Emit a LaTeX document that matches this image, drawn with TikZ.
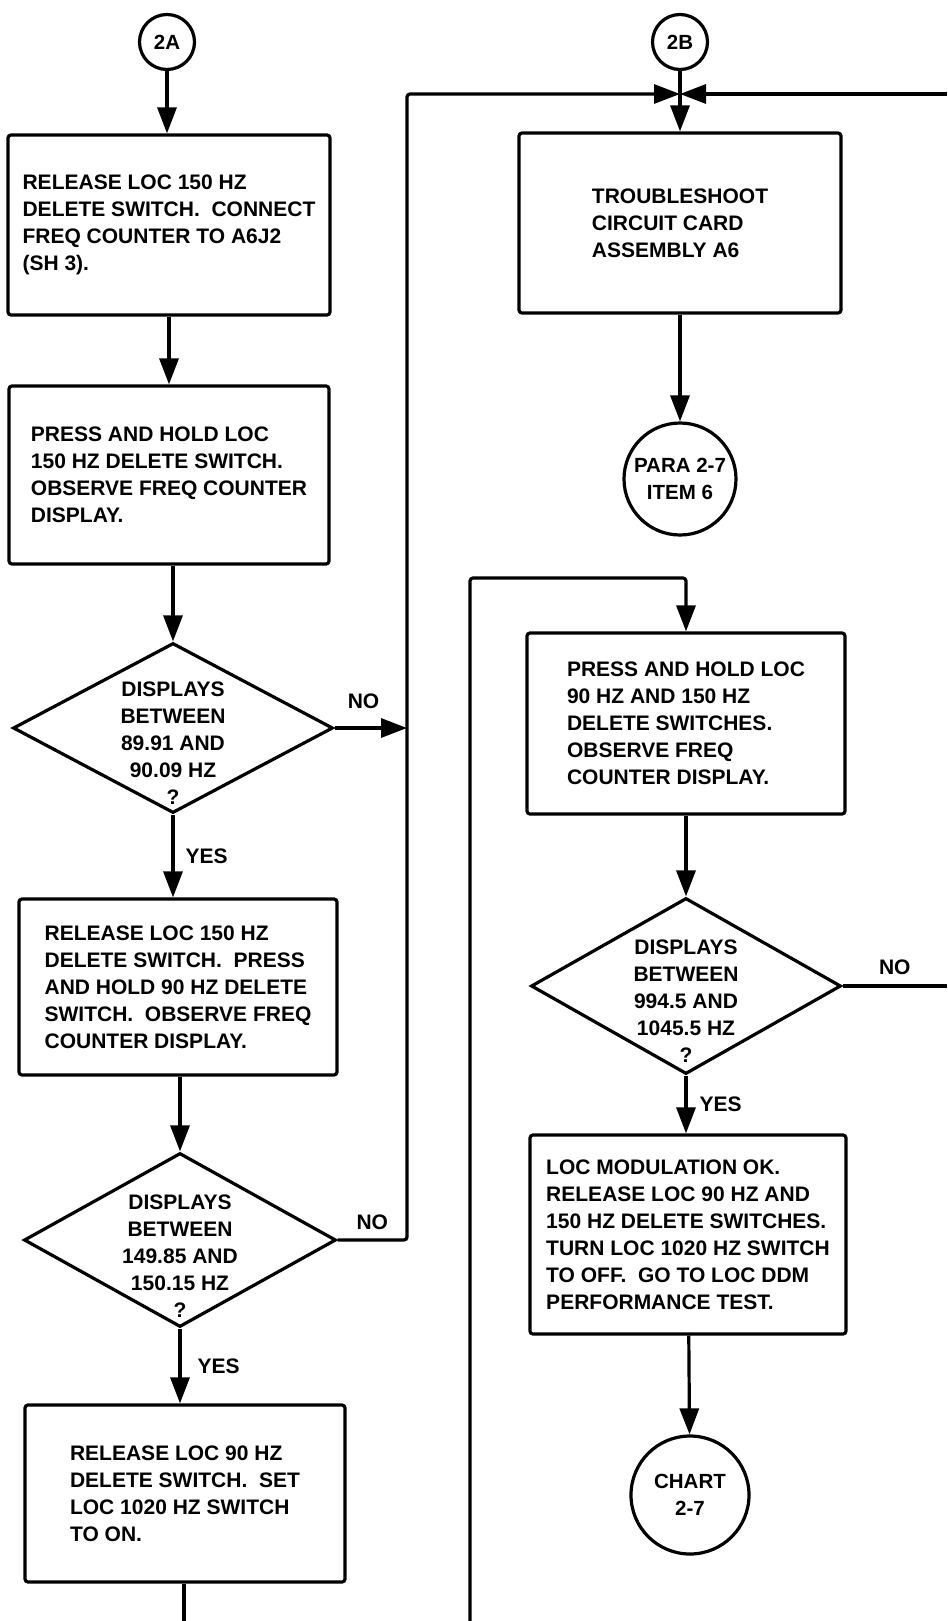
\documentclass[tikz,border=0pt]{standalone}
\usepackage{fontspec}
\setsansfont{Liberation Sans}
\usetikzlibrary{positioning,shapes.geometric,arrows.meta,calc}
\tikzset{
  basic/.style     = {draw, line width=3.2pt, font=\sffamily\bfseries\fontsize{21}{27}\selectfont},
  stepbox/.style   = {basic, rectangle, rounded corners=3pt, align=left, inner sep=0pt},
  decision/.style  = {basic, diamond, inner sep=0pt},
  dtext/.style     = {font=\sffamily\bfseries\fontsize{21}{27}\selectfont, align=center, inner sep=0pt},
  connector/.style = {basic, circle, align=center, inner sep=0pt, font=\sffamily\bfseries\fontsize{20.5}{27}\selectfont},
  lbl/.style       = {font=\sffamily\bfseries\fontsize{21}{27}\selectfont, inner sep=2pt},
  post/.style      = {->, >={Triangle[length=26pt,width=19pt]}, line width=3.2pt, rounded corners=3pt},
  wire/.style      = {line width=3.2pt, rounded corners=3pt}
}
\begin{document}
\begin{tikzpicture}[x=1pt,y=-1pt]
  \useasboundingbox (0,0) rectangle (947,1621);

  % left column
  \node[connector, minimum size=55pt] (c2A) at (167,42) {2A};
  \node[stepbox, minimum width=322pt, minimum height=180pt] (b1) at (169,225)
    {RELEASE LOC 150 HZ\\DELETE SWITCH.~ CONNECT\\FREQ COUNTER TO A6J2\\(SH 3).};
  \node[stepbox, minimum width=320pt, minimum height=178pt] (b2) at (169,475)
    {PRESS AND HOLD LOC\\150 HZ DELETE SWITCH.\\OBSERVE FREQ COUNTER\\DISPLAY.};
  \node[decision, minimum width=320pt, minimum height=170pt] (d1) at (173,728) {};
  \node[dtext, yshift=-15pt] (d1t) at (d1) {DISPLAYS\\BETWEEN\\89.91 AND\\90.09 HZ\\?};
  \node[stepbox, minimum width=318pt, minimum height=176pt] (b3) at (178,987)
    {RELEASE LOC 150 HZ\\DELETE SWITCH.~ PRESS\\AND HOLD 90 HZ DELETE\\SWITCH.~ OBSERVE FREQ\\COUNTER DISPLAY.};
  \node[decision, minimum width=312pt, minimum height=174pt] (d2) at (180,1240) {};
  \node[dtext, yshift=-16pt] (d2t) at (d2) {DISPLAYS\\BETWEEN\\149.85 AND\\150.15 HZ\\?};
  \node[stepbox, minimum width=320pt, minimum height=177pt] (b4) at (185,1493.5)
    {RELEASE LOC 90 HZ\\DELETE SWITCH.~ SET\\LOC 1020 HZ SWITCH\\TO ON.};

  % right column
  \node[connector, minimum size=55pt] (c2B) at (680,42) {2B};
  \node[stepbox, minimum width=322pt, minimum height=180pt] (b5) at (680,223)
    {TROUBLESHOOT\\CIRCUIT CARD\\ASSEMBLY A6};
  \node[connector, minimum size=112pt] (para) at (680,479) {PARA 2-7\\ITEM 6};
  \node[stepbox, minimum width=318pt, minimum height=181pt] (b6) at (686,723.5)
    {PRESS AND HOLD LOC\\90 HZ AND 150 HZ\\DELETE SWITCHES.\\OBSERVE FREQ\\COUNTER DISPLAY.};
  \node[decision, minimum width=310pt, minimum height=176pt] (d3) at (686,986) {};
  \node[dtext, yshift=-15pt] (d3t) at (d3) {DISPLAYS\\BETWEEN\\994.5 AND\\1045.5 HZ\\?};
  \node[stepbox, minimum width=316pt, minimum height=199pt] (b7) at (688,1234.5)
    {LOC MODULATION OK.\\RELEASE LOC 90 HZ AND\\150 HZ DELETE SWITCHES.\\TURN LOC 1020 HZ SWITCH\\TO OFF.~ GO TO LOC DDM\\PERFORMANCE TEST.};
  \node[connector, minimum size=118pt] (chart) at (690,1495) {CHART\\2-7};

  % free ends and bends
  \coordinate (join) at (680,94);
  \coordinate (nobus) at (407,94);
  \coordinate (inR) at (947,94);
  \coordinate (outL) at (184,1621);
  \coordinate (loop) at (470,1621);
  \coordinate (loopTop) at (470,578);
  \coordinate (outR) at (947,986);

  % left flow
  \draw[post] (c2A) -- (c2A |- b1.north);
  \draw[post] (b1) -- (b1 |- b2.north);
  \draw[post] (d1.north |- b2.south) -- (d1.north);
  \draw[post] (d1.south) -- node[lbl, right=9pt] (yes1) {YES} (d1.south |- b3.north);
  \draw[post] (b3.south -| d2.north) -- (d2.north);
  \draw[post] (d2.south) -- node[lbl, right=14pt] (yes2) {YES} (d2.south |- b4.north);
  \draw[wire] (b4.south -| outL) -- (outL);
  \draw[post] (d1.east) -- node[lbl, above=16pt, pos=.4] (no1) {NO} (d1.east -| nobus);
  \draw[post] (d2.east) -- node[lbl, above=7pt] (no2) {NO} (d2.east -| nobus) -- (nobus) -- (join);

  % right flow
  \draw[post] (inR) -- (join);
  \draw[wire] (c2B) -- (join);
  \draw[post] (join) -- (b5.north);
  \draw[post] (b5) -- (para);
  \draw[post] (loop) -- (loopTop) -- (loopTop -| b6.north) -- (b6.north);
  \draw[post] (b6) -- (d3);
  \draw[wire] (d3.east) -- node[lbl, above=8pt] (no3) {NO} (outR);
  \draw[post] (d3.south) -- node[lbl, right=10pt] (yes3) {YES} (d3.south |- b7.north);
  \draw[post] (b7) -- (chart);
\end{tikzpicture}
\end{document}
